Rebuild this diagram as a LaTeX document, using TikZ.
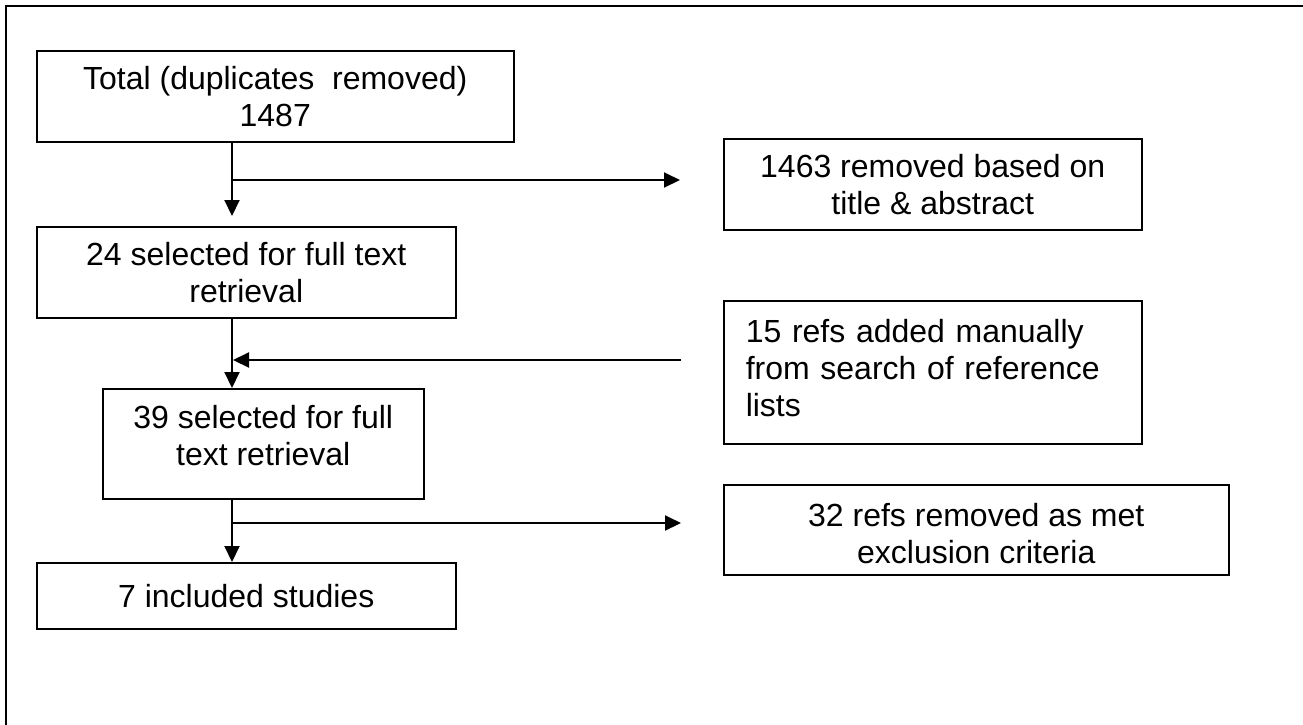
\documentclass[tikz,border=0pt]{standalone}
\usepackage{fontspec}
\setmainfont{Liberation Sans}
\usetikzlibrary{arrows.meta}
\tikzset{
    boxnode/.style = {rectangle, draw=black, line width=1.5pt, inner sep=0pt, anchor=north west, font=\fontsize{32}{37}\selectfont},
    flow_box/.style = {boxnode, align=center},
    side_box/.style = {boxnode, align=left},
    flow_line/.style = {line width=2pt, -{Triangle[length=16pt,width=15pt]}},
    frame_line/.style = {line width=1.7pt}
}

\begin{document}
\begin{tikzpicture}[x=1pt,y=-1pt]
    \useasboundingbox (0,0) rectangle (1303,724);
    \clip (0,0) rectangle (1303,724);
    \draw[frame_line] (6,6) rectangle (1320,740);
    % left column
    \node[flow_box, minimum width=477pt, minimum height=91pt] (total) at (36,50) {Total (duplicates\ \ removed)\\1487};
    \node[flow_box, minimum width=419pt, minimum height=91pt] (sel24) at (36,226) {24 selected for full text\\retrieval};
    \node[flow_box, minimum width=321pt, minimum height=110pt] (sel39) at (102,388)
        {\begin{tabular}{@{}c@{}}39 selected for full\\text retrieval\rule[-19pt]{0pt}{0pt}\end{tabular}};
    \node[flow_box, minimum width=419pt, minimum height=66pt] (incl7) at (36,562) {7 included studies};
    % right column
    \node[flow_box, minimum width=418pt, minimum height=91pt] (rem1463) at (723,138) {1463 removed based on\\title \& abstract};
    \node[side_box, minimum width=418pt, minimum height=143pt, text width=374pt] (added15) at (723,300)
        {\begin{tabular}{@{}l@{}}15 refs added manually\\from search of reference\\lists\end{tabular}};
    \node[flow_box, minimum width=505pt, minimum height=89pt] (rem32) at (723,484)
        {\begin{tabular}{@{}c@{}}\rule{0pt}{42pt}32 refs removed as met\\exclusion criteria\end{tabular}};
    % connectors
    \coordinate (split1) at (232,180);
    \coordinate (join2) at (233,360);
    \coordinate (split3) at (232,523);
    \draw[flow_line, shorten >=10pt] (total.south -| split1) -- (sel24.north -| split1);
    \draw[flow_line, shorten >=43pt] (split1) -- (rem1463.west |- split1);
    \draw[flow_line] (sel24.south -| split1) -- (sel39.north -| split1);
    \draw[flow_line, shorten <=42pt] (added15.west |- join2) -- (join2);
    \draw[flow_line] (sel39.south -| split1) -- (incl7.north -| split1);
    \draw[flow_line, shorten >=42pt] (split3) -- (rem32.west |- split3);
\end{tikzpicture}
\end{document}
